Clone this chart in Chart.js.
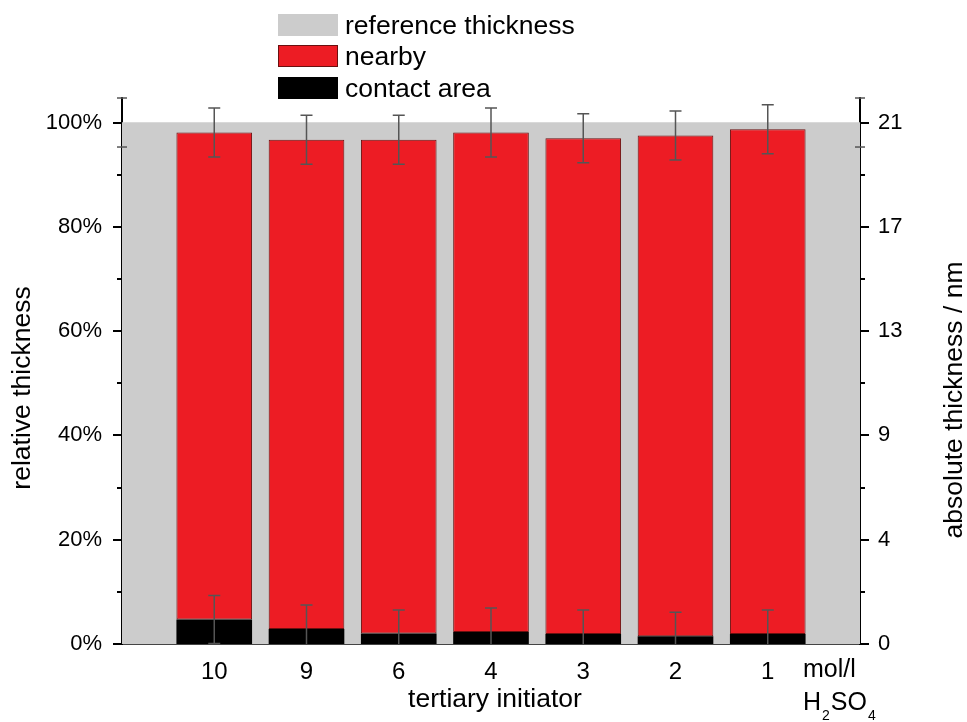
<!DOCTYPE html>
<html>
<head>
<meta charset="utf-8">
<script src="https://cdn.jsdelivr.net/npm/chart.js@4.4.1/dist/chart.umd.min.js"></script>
<style>
  body { margin: 0; background: #fff; }
  #wrap { width: 967px; height: 722px; }
</style>
</head>
<body>
<div id="wrap"><canvas id="chart" width="967" height="722"></canvas></div>
<script>
const categories = ['10', '9', '6', '4', '3', '2', '1'];
const contactArea = [4.7, 2.9, 2.0, 2.3, 1.9, 1.5, 1.9];
const nearby = [93.4, 93.8, 94.7, 95.8, 95.1, 96.0, 96.8];
const nearbyErr = [4.7, 4.7, 4.7, 4.7, 4.7, 4.7, 4.7];
const contactErr = [4.6, 4.6, 4.5, 4.6, 4.6, 4.6, 4.6];
const referenceThickness = [100];
const referenceErr = [4.7];
const relTickValues = [0, 20, 40, 60, 80, 100];
const absTickLabels = ['0', '4', '9', '13', '17', '21'];

const FONT = "'Liberation Sans', Arial, sans-serif";
const pad = arr => [null, ...arr, null];

// extra empty slot on each side so the bars sit one full step from the axes
const xLabels = ['', ...categories, ''];

const fixedTicks = s => { s.ticks = relTickValues.map(v => ({ value: v })); };

const decorations = {
    id: 'decorations',
    afterDatasetsDraw(chart) {
        const ctx = chart.ctx;
        const x = chart.scales.x, y = chart.scales.y;
        const area = chart.chartArea;

        // error bars
        ctx.save();
        ctx.strokeStyle = '#555';
        ctx.lineWidth = 1.5;
        const cap = 6;
        const bar = (px, v, e) => {
            const top = y.getPixelForValue(v + e);
            const bot = y.getPixelForValue(Math.max(v - e, 0));
            ctx.beginPath();
            ctx.moveTo(px, top); ctx.lineTo(px, bot);
            ctx.moveTo(px - cap, top); ctx.lineTo(px + cap, top);
            if (v - e > 0) { ctx.moveTo(px - cap, bot); ctx.lineTo(px + cap, bot); }
            ctx.stroke();
        };
        categories.forEach((c, i) => {
            const px = x.getPixelForValue(i + 1);
            bar(px, contactArea[i] + nearby[i], nearbyErr[i]);
            bar(px, contactArea[i], contactErr[i]);
        });
        // reference caps at both edges
        [area.left, area.right].forEach(px => {
            [referenceThickness[0] - referenceErr[0], referenceThickness[0] + referenceErr[0]].forEach(v => {
                const py = y.getPixelForValue(v);
                ctx.beginPath();
                ctx.moveTo(px - 5, py); ctx.lineTo(px + 5, py);
                ctx.stroke();
            });
        });
        ctx.restore();
    },
    afterDraw(chart) {
        const ctx = chart.ctx;
        const y = chart.scales.y;
        const area = chart.chartArea;

        // axis ticks: major every 20 %, minor every 10 %
        ctx.save();
        ctx.strokeStyle = '#000';
        ctx.lineWidth = 2;
        for (let v = 0; v <= 100; v += 10) {
            const py = Math.round(y.getPixelForValue(v));
            const len = v % 20 === 0 ? 9 : 5;
            ctx.beginPath();
            ctx.moveTo(area.left, py); ctx.lineTo(area.left - len, py);
            ctx.moveTo(area.right, py); ctx.lineTo(area.right + len, py);
            ctx.stroke();
        }
        ctx.restore();

        // legend
        ctx.save();
        const ds = chart.data.datasets;
        const rows = [25, 56, 88];
        ds.forEach((d, i) => {
            const cy = rows[i];
            ctx.fillStyle = d.backgroundColor;
            ctx.fillRect(278, cy - 11, 60, 22);
            if (d.borderWidth) {
                ctx.strokeStyle = d.borderColor;
                ctx.lineWidth = 1;
                ctx.strokeRect(278.5, cy - 10.5, 59, 21);
            }
            ctx.fillStyle = '#000';
            ctx.font = '26.5px ' + FONT;
            ctx.textBaseline = 'alphabetic';
            ctx.fillText(d.label, 345, cy + 9);
        });

        // axis titles
        ctx.font = '26.5px ' + FONT;
        ctx.textAlign = 'center';
        ctx.fillText('tertiary initiator', 495, 707);

        ctx.save();
        ctx.translate(30, 388);
        ctx.rotate(-Math.PI / 2);
        ctx.fillText('relative thickness', 0, 0);
        ctx.restore();

        ctx.save();
        ctx.translate(962, 400);
        ctx.rotate(-Math.PI / 2);
        ctx.fillText('absolute thickness / nm', 0, 0);
        ctx.restore();

        // unit label
        ctx.textAlign = 'left';
        ctx.font = '25px ' + FONT;
        ctx.fillText('mol/l', 803, 677);
        ctx.fillText('H', 803, 710);
        let w = ctx.measureText('H').width;
        ctx.font = '14px ' + FONT;
        ctx.fillText('2', 803 + w + 1, 720);
        const w2 = ctx.measureText('2').width;
        ctx.font = '25px ' + FONT;
        ctx.fillText('SO', 803 + w + w2 + 2, 710);
        const w3 = ctx.measureText('SO').width;
        ctx.font = '14px ' + FONT;
        ctx.fillText('4', 803 + w + w2 + w3 + 3, 720);
        ctx.restore();
    }
};

new Chart(document.getElementById('chart'), {
    type: 'bar',
    data: {
        labels: xLabels,
        datasets: [
            {
                label: 'reference thickness',
                data: referenceThickness,
                xAxisID: 'xRef',
                stack: 'ref',
                grouped: false,
                backgroundColor: '#cccccc',
                borderWidth: 0,
                barPercentage: 1,
                categoryPercentage: 1,
                order: 3
            },
            {
                label: 'nearby',
                data: pad(nearby),
                stack: 's',
                grouped: false,
                backgroundColor: '#ed1c24',
                borderColor: '#6a1010',
                borderWidth: 1,
                borderSkipped: false,
                barPercentage: 1,
                categoryPercentage: 0.82,
                order: 2
            },
            {
                label: 'contact area',
                data: pad(contactArea),
                stack: 's',
                grouped: false,
                backgroundColor: '#000000',
                borderWidth: 0,
                barPercentage: 1,
                categoryPercentage: 0.82,
                order: 1
            }
        ]
    },
    options: {
        responsive: false,
        animation: false,
        layout: { padding: { top: 98, left: 0, right: 0, bottom: 0 } },
        plugins: { legend: { display: false }, tooltip: { enabled: false } },
        scales: {
            x: {
                stacked: true,
                offset: false,
                grid: { display: false, drawTicks: false },
                border: { display: true, color: '#444', width: 2 },
                ticks: { color: '#000', font: { family: FONT, size: 24 }, padding: 14, autoSkip: false, maxRotation: 0 },
                afterFit: s => { s.height = 78; }
            },
            xRef: {
                type: 'category',
                labels: ['all'],
                offset: true,
                display: false
            },
            y: {
                position: 'left',
                stacked: true,
                min: 0,
                max: 104.7,
                grid: { display: false, drawTicks: false },
                border: { display: true, color: '#000', width: 2 },
                afterBuildTicks: fixedTicks,
                ticks: {
                    color: '#000',
                    padding: 20,
                    font: { family: FONT, size: 22 },
                    callback: v => v + '%'
                },
                afterFit: s => { s.width = 122; }
            },
            y2: {
                position: 'right',
                min: 0,
                max: 104.7,
                grid: { display: false, drawTicks: false },
                border: { display: true, color: '#000', width: 2 },
                afterBuildTicks: fixedTicks,
                ticks: {
                    color: '#000',
                    padding: 18,
                    font: { family: FONT, size: 22 },
                    callback: v => absTickLabels[relTickValues.indexOf(v)]
                },
                afterFit: s => { s.width = 107; }
            }
        }
    },
    plugins: [decorations]
});
</script>
</body>
</html>
